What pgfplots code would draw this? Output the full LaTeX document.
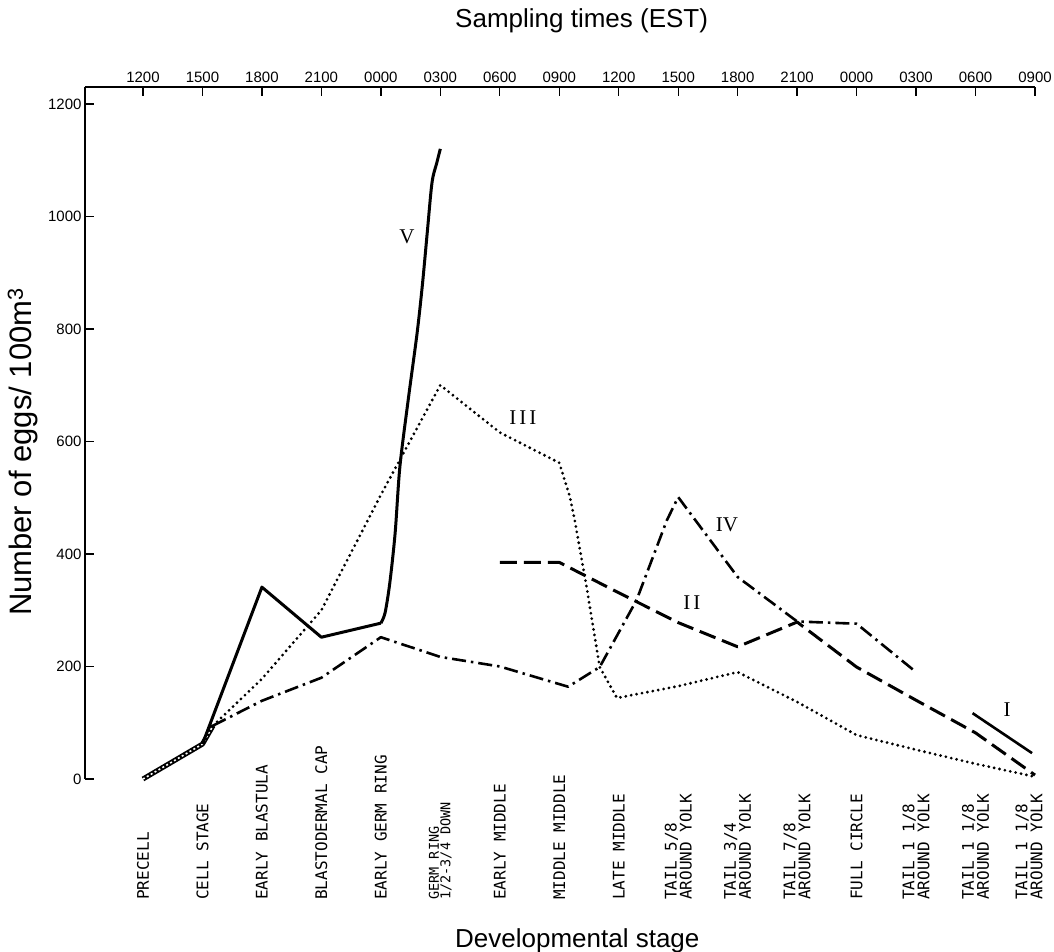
\documentclass[border=0pt]{standalone}
\usepackage{fontspec}
\setmainfont{Liberation Sans}
\newfontfamily\monof{DejaVu Sans Mono}
\newfontfamily\serf{Liberation Serif}
\usepackage{pgfplots}
\pgfplotsset{compat=1.18}
\tikzset{stg/.style={rotate=90, anchor=west, inner sep=0pt, align=left, font=\monof\fontsize{16}{15}\selectfont}}
\begin{document}
\begin{tikzpicture}
\path[use as bounding box] (-85pt,-173pt) rectangle (969pt,779pt);
\begin{axis}[
 at={(0pt,0pt)}, anchor=south west,
 scale only axis, width=950pt, height=692pt,
 xmin=-0.975, xmax=15, ymin=0, ymax=1230,
 axis x line=top, axis y line=left,
 axis line style={-, line width=1.6pt},
 tick style={line width=1.4pt, black},
 major tick length=9pt,
 tick align=inside,
 xtick={0,...,15},
 xticklabels={1200,1500,1800,2100,0000,0300,0600,0900,1200,1500,1800,2100,0000,0300,0600,0900},
 ytick={0,200,...,1200},
 /pgf/number format/1000 sep={},
 /pgf/number format/assume math mode=true,
 ticklabel style={font=\fontsize{15}{18}\selectfont},
 xticklabel style={yshift=1pt},
 clip=false,
 line join=round,
]
% overlapping start of all early series (hatched)
\addplot[black, line width=5pt] coordinates {(0,0) (1,62) (1.18,95)};
\addplot[white, line width=1.6pt, dash pattern=on 2pt off 2.5pt] coordinates {(0,0) (1,62) (1.18,95)};
% V solid
\addplot[black, line width=3pt] coordinates {(1,62) (2,341) (3,252) (4,277)};
\addplot[black, line width=3pt, smooth] coordinates {(4,277) (4.07,295) (4.15,348) (4.24,437) (4.32,555) (4.46,674) (4.61,793) (4.70,880) (4.78,971) (4.86,1060) (4.94,1095) (5,1120)};
% III dotted
\addplot[black, line width=3.1pt, line cap=round, dash pattern=on 0pt off 5.5pt] coordinates {(1.18,95) (2,178) (3,300) (4,505) (5,700) (6,616) (7,562) (7.18,501) (7.26,460) (7.46,341) (7.68,199) (7.97,144) (9,165) (10,190) (11,137) (12,78) (13,52) (14,27) (15,4)};
% IV dash-dot
\addplot[black, line width=2.6pt, dash pattern=on 14pt off 5pt on 2.5pt off 5pt] coordinates {(1.18,95) (2,139) (3,180) (4,252) (5,217) (6,200) (7.15,164) (7.68,199) (8.3,318) (8.81,460) (9,501) (10,359) (11,280) (12,276) (13,190)};
% II dashed
\addplot[black, line width=3pt, dash pattern=on 17pt off 7pt] coordinates {(6,385) (7,385) (8,331) (9,278) (10,235) (11,279) (12,199) (13,140) (14,82) (15,7)};
% I solid
\addplot[black, line width=2.6pt] coordinates {(13.95,117) (14.95,46)};
% series labels
\node[font=\serf\fontsize{21}{21}\selectfont] at (axis cs:4.44,963) {V};
\node[font=\serf\fontsize{21}{21}\selectfont] at (axis cs:6.39,642) {I\kern3pt I\kern3pt I};
\node[font=\serf\fontsize{21}{21}\selectfont] at (axis cs:9.82,452) {IV};
\node[font=\serf\fontsize{21}{21}\selectfont] at (axis cs:9.23,314) {I\kern3pt I};
\node[font=\serf\fontsize{21}{21}\selectfont] at (axis cs:14.53,124) {I};
% stage labels
\node[stg] at (axis cs:0,-215) {PRECELL};
\node[stg] at (axis cs:1,-215) {CELL STAGE};
\node[stg] at (axis cs:2,-215) {EARLY BLASTULA};
\node[stg] at (axis cs:3,-215) {BLASTODERMAL CAP};
\node[stg] at (axis cs:4,-215) {EARLY GERM RING};
\node[stg, font=\monof\fontsize{13.5}{11.5}\selectfont] at (axis cs:5,-215) {GERM RING\\1/2-3/4 DOWN};
\node[stg] at (axis cs:6,-215) {EARLY MIDDLE};
\node[stg] at (axis cs:7,-215) {MIDDLE MIDDLE};
\node[stg] at (axis cs:8,-215) {LATE MIDDLE};
\node[stg] at (axis cs:9,-215) {TAIL 5/8\\AROUND YOLK};
\node[stg] at (axis cs:10,-215) {TAIL 3/4\\AROUND YOLK};
\node[stg] at (axis cs:11,-215) {TAIL 7/8\\AROUND YOLK};
\node[stg] at (axis cs:12,-215) {FULL CIRCLE};
\node[stg] at (axis cs:13,-215) {TAIL 1 1/8\\AROUND YOLK};
\node[stg] at (axis cs:14,-215) {TAIL 1 1/8\\AROUND YOLK};
\node[stg] at (axis cs:14.9,-215) {TAIL 1 1/8\\AROUND YOLK};
\end{axis}
\node[anchor=base west, inner sep=0pt, font=\fontsize{26}{30}\selectfont] at (370pt,751pt) {Sampling times (EST)};
\node[rotate=90, anchor=base, inner sep=0pt, font=\fontsize{31}{34}\selectfont] at (-53pt,327pt) {Number of eggs/ 100m\textsuperscript{3}};
\node[anchor=base west, inner sep=0pt, font=\fontsize{26}{30}\selectfont] at (370pt,-168pt) {Developmental stage};
\end{tikzpicture}
\end{document}
